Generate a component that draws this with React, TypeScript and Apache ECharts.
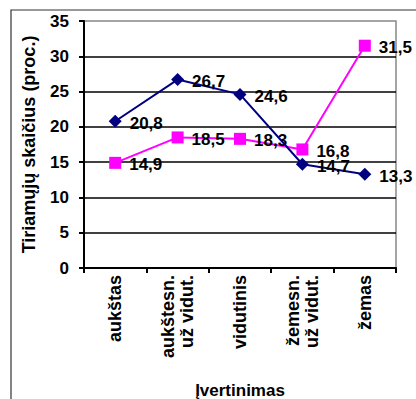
import React, { useEffect, useRef } from "react";
import * as echarts from "echarts";

const categories = ["aukštas", "aukštesn.\nuž vidut.", "vidutinis", "žemesn.\nuž vidut.", "žemas"];
const seriesA = [20.8, 26.7, 24.6, 14.7, 13.3];
const seriesB = [14.9, 18.5, 18.3, 16.8, 31.5];
const yTicks = { min: 0, max: 35, interval: 5 };

const FONT = "'Liberation Sans', Arial, sans-serif";

export default function App() {
  const ref = useRef<HTMLDivElement>(null);
  useEffect(() => {
    if (!ref.current) return;
    const chart = echarts.init(ref.current, null, { renderer: "svg" });
    const labelFmt = (p: any) => String(p.value).replace(".", ",");
    const label = {
      show: true,
      position: "right" as const,
      distance: 7,
      offset: [1, 2],
      color: "#000",
      fontFamily: FONT,
      fontWeight: "bold" as const,
      fontSize: 17,
      formatter: labelFmt,
    };
    chart.setOption({
      animation: false,
      backgroundColor: "#fff",
      graphic: [
        {
          type: "rect",
          shape: { x: 11, y: 10, width: 600, height: 600 },
          style: { fill: "none", stroke: "#333", lineWidth: 1.2 },
          silent: true,
        },
      ],
      grid: {
        left: 84,
        right: 20,
        top: 21,
        bottom: 131,
        show: true,
        borderColor: "#888",
        borderWidth: 1.5,
        backgroundColor: "transparent",
        containLabel: false,
        outerBoundsMode: "none",
      },
      xAxis: {
        type: "category",
        data: categories,
        boundaryGap: true,
        name: "Įvertinimas",
        nameLocation: "middle",
        nameGap: 114,
        nameTextStyle: { fontFamily: FONT, fontWeight: "bold", fontSize: 17, color: "#000" },
        axisLine: { lineStyle: { color: "#000", width: 2 } },
        axisTick: { show: true, length: 5, lineStyle: { color: "#000", width: 2 } },
        axisLabel: {
          rotate: 90,
          margin: 7,
          interval: 0,
          fontFamily: FONT,
          fontWeight: "bold",
          fontSize: 18,
          lineHeight: 19,
          color: "#000",
        },
        splitLine: { show: false },
      },
      yAxis: {
        type: "value",
        min: yTicks.min,
        max: yTicks.max,
        interval: yTicks.interval,
        name: "Tiriamųjų skaičius (proc.)",
        nameLocation: "middle",
        nameGap: 46,
        nameTextStyle: { fontFamily: FONT, fontWeight: "bold", fontSize: 18, color: "#000" },
        axisLine: { show: true, lineStyle: { color: "#000", width: 2 } },
        axisTick: { show: true, length: 5, lineStyle: { color: "#000", width: 2 } },
        axisLabel: {
          margin: 15,
          fontFamily: FONT,
          fontWeight: "bold",
          fontSize: 17,
          color: "#000",
        },
        splitLine: { show: true, showMaxLine: false, lineStyle: { color: "#000", width: 1.5 } },
      },
      series: [
        {
          type: "line",
          data: seriesA,
          symbol: "diamond",
          symbolSize: 13,
          itemStyle: { color: "#000080" },
          lineStyle: { color: "#000080", width: 2 },
          label,
          z: 3,
        },
        {
          type: "line",
          data: seriesB,
          symbol: "rect",
          symbolSize: 12,
          itemStyle: { color: "#FF00FF" },
          lineStyle: { color: "#FF00FF", width: 2 },
          label,
          z: 2,
        },
      ],
    });
    return () => chart.dispose();
  }, []);
  return (
    <div
      ref={ref}
      style={{ position: "fixed", left: 0, top: 0, width: 416, height: 399, background: "#fff" }}
    />
  );
}
